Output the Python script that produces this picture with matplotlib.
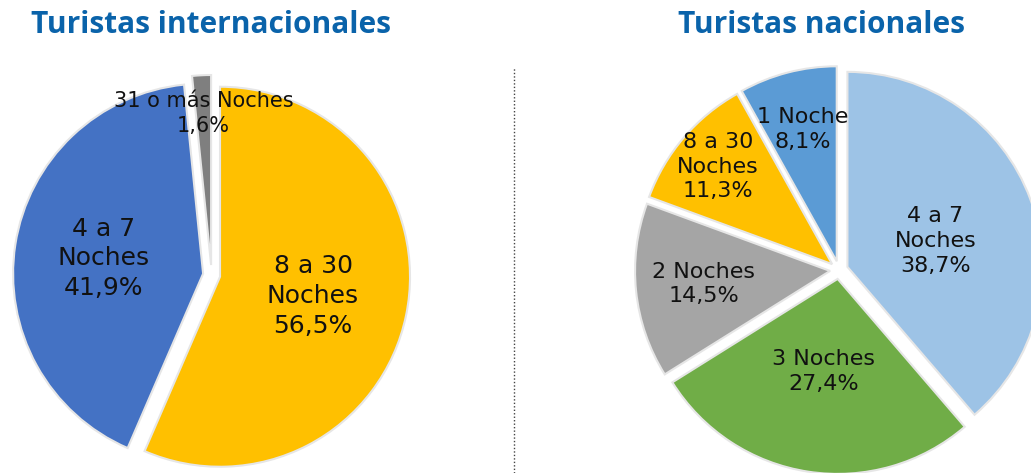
import matplotlib.pyplot as plt
import numpy as np

# data
intl_names = ['8 a 30\nNoches', '4 a 7\nNoches', '31 o más Noches']
intl_values = [56.5, 41.9, 1.6]
intl_colors = ['#FFC000', '#4472C4', '#7F7F7F']

nac_names = ['4 a 7\nNoches', '3 Noches', '2 Noches', '8 a 30\nNoches', '1 Noche']
nac_values = [38.7, 27.4, 14.5, 11.3, 8.1]
nac_colors = ['#9DC3E6', '#70AD47', '#A5A5A5', '#FFC000', '#5B9BD5']

W, H = 1031, 473
title_color = '#0A63AA'

fig = plt.figure(figsize=(W / 100, H / 100), dpi=100)
ax = fig.add_axes([0, 0, 1, 1])
ax.set_xlim(0, W)
ax.set_ylim(0, H)
ax.set_aspect('equal')
ax.axis('off')


def fmt(v):
    return ('%.1f' % v).replace('.', ',') + '%'


def draw_pie(values, names, colors, center, radius, explode, dists, sizes, shift=None):
    wedges, _ = ax.pie(values, colors=colors, center=center, radius=radius,
                       explode=explode, startangle=90, counterclock=False,
                       wedgeprops=dict(edgecolor='#e6e6e6', linewidth=1.5))
    shift = shift or [0] * len(values)
    for w, name, v, d, fs, s in zip(wedges, names, values, dists, sizes, shift):
        ang = np.deg2rad((w.theta1 + w.theta2) / 2 + s)
        cx, cy = w.center
        ax.text(cx + w.r * d * np.cos(ang), cy + w.r * d * np.sin(ang),
                name + '\n' + fmt(v), ha='center', va='center',
                fontsize=fs, linespacing=1.3, color='#111111')


# left pie
r1 = 190
draw_pie(intl_values, intl_names, intl_colors, (211.6, H - 275), r1,
         [8.6, 8.6, 10], [0.5, 0.53, 0.8], [18, 18, 15])

# right pie
r2 = 195
draw_pie(nac_values, nac_names, nac_colors, (839, H - 270), r2,
         [9] * 5, [0.47, 0.48, 0.65, 0.77, 0.70], [16] * 5,
         shift=[-4, 0, 0, 0, 0])

ax.set_xlim(0, W)
ax.set_ylim(0, H)

ax.text(211, H - 25, 'Turistas internacionales', ha='center', va='center',
        fontsize=21.5, fontweight='bold', color=title_color, family='Open Sans')
ax.text(821, H - 25, 'Turistas nacionales', ha='center', va='center',
        fontsize=21.5, fontweight='bold', color=title_color, family='Open Sans')

ax.axvline(514, ymin=0, ymax=(H - 67) / H, color='#444444', lw=1,
           linestyle=(0, (1, 1.5)))

fig.savefig('out.png', dpi=100)
